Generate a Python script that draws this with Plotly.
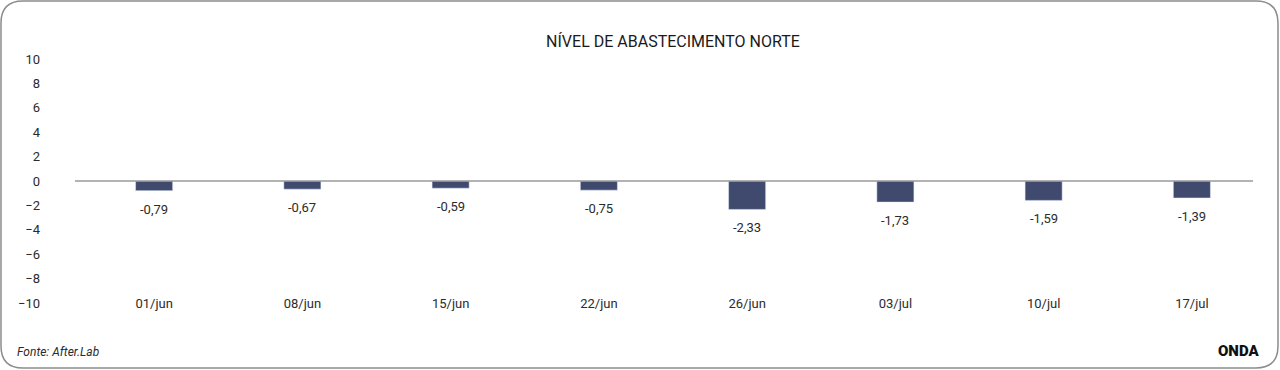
import plotly.graph_objects as go

categories = ["01/jun", "08/jun", "15/jun", "22/jun", "26/jun", "03/jul", "10/jul", "17/jul"]
values = [-0.79, -0.67, -0.59, -0.75, -2.33, -1.73, -1.59, -1.39]
y_ticks = [10, 8, 6, 4, 2, 0, -2, -4, -6, -8, -10]
title_text = "NÍVEL DE ABASTECIMENTO NORTE"
source_text = "Fonte: After.Lab"
brand_text = "ONDA"

W, H = 1280, 370
L, R, T, B = 80, 14, 59, 67
PW, PH = W - L - R, H - T - B

def px(x):
    return (x - L) / PW

def py(y):
    return (H - B - y) / PH

labels = [f"{v:.2f}".replace(".", ",") for v in values]
FONT = "Roboto, Inter, sans-serif"
TXT = "#2b2b2b"

fig = go.Figure()
fig.add_trace(go.Bar(
    x=categories, y=values, marker_color="#404a6e",
    width=0.25, hoverinfo="x+y",
))

# rounded border
x0, x1, y0, y1, r = 1, 1278, 1, 368, 22
path = (f"M {px(x0+r)},{py(y0)} L {px(x1-r)},{py(y0)} Q {px(x1)},{py(y0)} {px(x1)},{py(y0+r)} "
        f"L {px(x1)},{py(y1-r)} Q {px(x1)},{py(y1)} {px(x1-r)},{py(y1)} "
        f"L {px(x0+r)},{py(y1)} Q {px(x0)},{py(y1)} {px(x0)},{py(y1-r)} "
        f"L {px(x0)},{py(y0+r)} Q {px(x0)},{py(y0)} {px(x0+r)},{py(y0)} Z")

annotations = [
    dict(text=lab, x=c, y=v, xref="x", yref="y", yanchor="top", xanchor="center",
         yshift=-9, showarrow=False, font=dict(family=FONT, size=13, color=TXT))
    for c, v, lab in zip(categories, values, labels)
]
annotations += [
    dict(text=f"<i>{source_text}</i>", xref="paper", yref="paper",
         x=px(15), y=py(352), xanchor="left", yanchor="middle", showarrow=False,
         font=dict(family=FONT, size=12, color=TXT)),
    dict(text=brand_text, xref="paper", yref="paper",
         x=px(1261), y=py(351), xanchor="right", yanchor="middle", showarrow=False,
         font=dict(family=FONT, size=15, color="#111", weight=900)),
]

fig.update_layout(
    width=W, height=H,
    margin=dict(l=L, r=R, t=T, b=B),
    paper_bgcolor="white", plot_bgcolor="white",
    showlegend=False,
    title=dict(text=title_text, x=0.5, xref="paper", xanchor="center",
               y=1 - 41 / H, yanchor="middle",
               font=dict(family=FONT, size=16, color="#1a1a1a")),
    xaxis=dict(showgrid=False, zeroline=False, showline=False, ticks="",
               tickfont=dict(family=FONT, size=13, color=TXT),
               ticklabelstandoff=-9),
    yaxis=dict(range=[-10, 10], tickvals=y_ticks, showgrid=False, zeroline=False,
               showline=False, ticks="",
               tickfont=dict(family=FONT, size=13, color=TXT),
               ticklabelstandoff=39),
    shapes=[
        dict(type="line", xref="paper", yref="y", x0=px(75), x1=px(1253), y0=0, y1=0,
             line=dict(color="#9a9a9a", width=1.5)),
        dict(type="path", xref="paper", yref="paper", path=path,
             line=dict(color="#8c8c8c", width=1.5)),
    ],
    annotations=annotations,
)

fig.write_html("out.html", config={"displayModeBar": False},
               post_script="document.body.style.margin='0';document.body.style.overflow='hidden';")
